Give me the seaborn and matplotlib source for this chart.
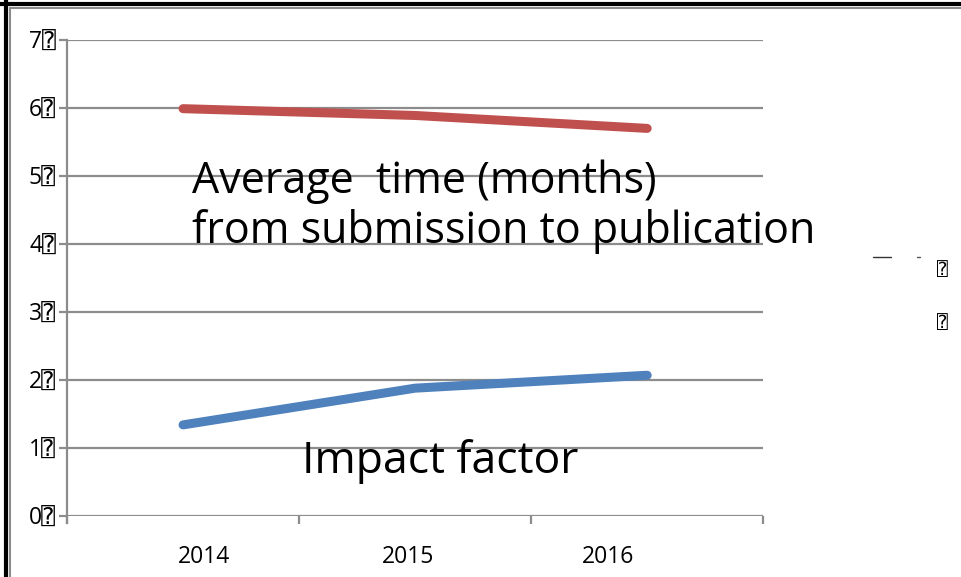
import matplotlib
matplotlib.use("Agg")
import matplotlib.pyplot as plt
from matplotlib.lines import Line2D
import seaborn as sns
import pandas as pd

years = ["2014", "2015", "2016"]
avg_time = [5.99, 5.89, 5.70]
impact = [1.34, 1.88, 2.07]
ytick_vals = [0, 1, 2, 3, 4, 5, 6, 7]
box = "\u2370"

sns.set_style("white")
plt.rcParams["font.family"] = ["Open Sans", "DejaVu Sans Mono", "DejaVu Sans"]
plt.rcParams["text.color"] = "black"
plt.rcParams["xtick.labelcolor"] = "black"
plt.rcParams["ytick.labelcolor"] = "black"

df = pd.DataFrame({
    "year": years * 2,
    "value": avg_time + impact,
    "series": ["time"] * 3 + ["impact"] * 3,
})

fig = plt.figure(figsize=(9.61, 5.77), dpi=100)
ax = fig.add_axes([0.0697, 0.1057, 0.7245, 0.825])

grid_c = "#8c8c8c"
for v in ytick_vals:
    ax.axhline(v, color=grid_c, lw=1.6, zorder=1)

sns.lineplot(data=df, x="year", y="value", hue="series",
             palette={"time": "#C0504D", "impact": "#4F81BD"},
             lw=6.5, ax=ax, legend=False, sort=False, zorder=3,
             solid_capstyle="round")

ax.set_ylim(0, 7)
ax.set_xlim(-0.5, 2.5)
ax.set_yticks(ytick_vals)
ax.set_yticklabels([f"{v}{box}" for v in ytick_vals], fontsize=16.5)
# year labels sit a bit off the category centres in the original
ax.set_xticks([0.09, 0.97, 1.83])
ax.set_xticklabels(years, fontsize=16.5)
ax.set_xticks([-0.5, 0.5, 1.5, 2.5], minor=True)
ax.tick_params(axis="x", which="major", length=0, pad=21)
ax.tick_params(axis="x", which="minor", length=6, width=1.6, color=grid_c, bottom=True)
ax.tick_params(axis="y", length=6, width=1.6, color=grid_c, left=True, pad=2)
ax.set_xlabel("")
ax.set_ylabel("")
for s in ["top", "right", "bottom"]:
    ax.spines[s].set_visible(False)
ax.spines["left"].set_color(grid_c)
ax.spines["left"].set_linewidth(1.6)
ax.spines["left"].set_bounds(-0.1, 7)

ax.text(0.04, 4.55, "Average  time (months)\nfrom submission to publication",
        fontsize=31, ha="left", va="center", linespacing=1.13, zorder=4)
ax.text(1.11, 0.80, "Impact factor", fontsize=32, ha="center", va="center", zorder=4)

# page frame
fig.add_artist(Line2D([5.5 / 961, 5.5 / 961], [0, 1], color="black", lw=3))
fig.add_artist(Line2D([0, 1], [1 - 4 / 577, 1 - 4 / 577], color="black", lw=3))
fig.add_artist(Line2D([10 / 961, 10 / 961], [0, 1 - 8 / 577], color="#8c8c8c", lw=1.5))
fig.add_artist(Line2D([10 / 961, 1], [1 - 8 / 577, 1 - 8 / 577], color="#8c8c8c", lw=1.5))

# legend remnants on the right
fig.add_artist(Line2D([873 / 961, 891 / 961], [1 - 257 / 577] * 2, color="#333333", lw=1))
fig.add_artist(Line2D([917 / 961, 920 / 961], [1 - 257 / 577] * 2, color="#555555", lw=1))
fig.text(942 / 961, 1 - 270 / 577, box, fontsize=13, ha="center", va="center")
fig.text(942 / 961, 1 - 323 / 577, box, fontsize=13, ha="center", va="center")

fig.savefig("out.png", dpi=100)
